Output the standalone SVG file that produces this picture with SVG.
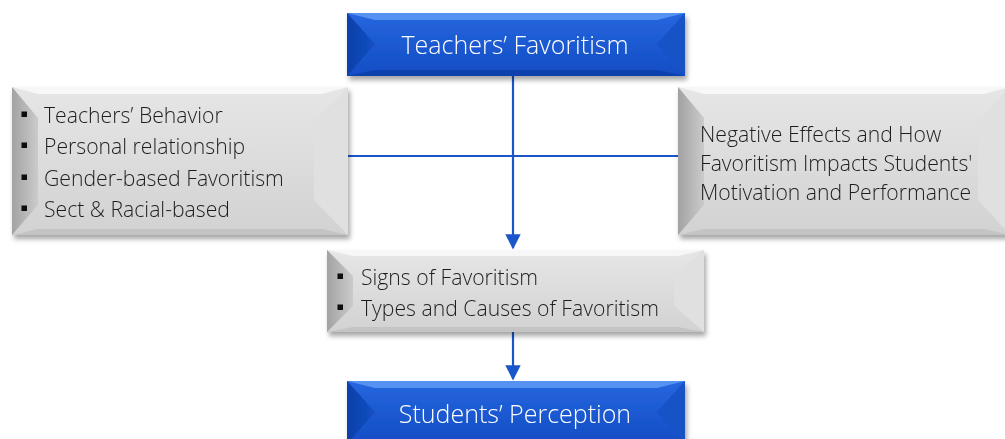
<svg xmlns="http://www.w3.org/2000/svg" width="1005" height="439" viewBox="0 0 1005 439">
  <defs>
    <filter id="shadow" x="-10%" y="-20%" width="125%" height="150%">
      <feDropShadow dx="2" dy="4" stdDeviation="2.5" flood-color="#000" flood-opacity="0.35"/>
    </filter>
    <linearGradient id="blueFace" x1="0" y1="0" x2="0" y2="1">
      <stop offset="0" stop-color="#2766de"/>
      <stop offset="1" stop-color="#114dc4"/>
    </linearGradient>
    <linearGradient id="blueLeft" x1="0" y1="0" x2="1" y2="0">
      <stop offset="0" stop-color="#0b3fa8"/>
      <stop offset="1" stop-color="#1450c4"/>
    </linearGradient>
    <linearGradient id="grayFace" x1="0" y1="0" x2="0" y2="1">
      <stop offset="0" stop-color="#e6e6e6"/>
      <stop offset="1" stop-color="#d2d2d2"/>
    </linearGradient>
    <linearGradient id="grayLeft" x1="0" y1="0" x2="1" y2="0">
      <stop offset="0" stop-color="#a2a2a2"/>
      <stop offset="1" stop-color="#cbcbcb"/>
    </linearGradient>
    <marker id="arrow" viewBox="0 0 10 10" refX="9" refY="5" markerWidth="7" markerHeight="7" markerUnits="strokeWidth" orient="auto">
      <path d="M0,0 L10,5 L0,10 Z" fill="#1a55c9"/>
    </marker>
  </defs>
  <style>
    .blue-face { fill: url(#blueFace); }
    .blue-left { fill: url(#blueLeft); }
    .blue-right { fill: #1652c6; }
    .blue-top { fill: #5592f2; }
    .blue-bottom { fill: #0c42ae; }
    .gray-face { fill: url(#grayFace); }
    .gray-left { fill: url(#grayLeft); }
    .gray-right { fill: #e0e0e0; }
    .gray-top { fill: #f7f7f7; }
    .gray-bottom { fill: #c4c4c4; }
    .label-white { font-family: "Open Sans", "Noto Sans", sans-serif; font-weight: 300; font-size: 25px; fill: #ffffff; text-anchor: middle; }
    .label-dark { font-family: "Open Sans", "Noto Sans", sans-serif; font-weight: 300; font-size: 21.2px; fill: #1e1e1e; }
    .bullet { fill: #0a0a0a; }
    .link { stroke: #1a55c9; stroke-width: 2.2; fill: none; }
  </style>

  <!-- connectors -->
  <g id="connectors">
    <line class="link" x1="348" y1="156" x2="678" y2="156"/>
    <line class="link" x1="513" y1="76" x2="513" y2="248" marker-end="url(#arrow)"/>
    <line class="link" x1="513" y1="332" x2="513" y2="379" marker-end="url(#arrow)"/>
  </g>

  <!-- top node -->
  <g id="teachers-favoritism" filter="url(#shadow)">
    <rect class="blue-face" x="347" y="13" width="338" height="63"/>
    <polygon class="blue-top" points="347,13 685,13 657,20 375,20"/>
    <polygon class="blue-bottom" points="347,76 685,76 657,70 375,70"/>
    <polygon class="blue-left" points="347,13 375,44 347,76"/>
    <polygon class="blue-right" points="685,13 657,44 685,76"/>
    <text class="label-white" x="515" y="54">Teachers’ Favoritism</text>
  </g>

  <!-- left node -->
  <g id="factors" filter="url(#shadow)">
    <rect class="gray-face" x="12" y="87" width="336" height="148"/>
    <polygon class="gray-top" points="12,87 348,87 322,94 38,94"/>
    <polygon class="gray-bottom" points="12,235 348,235 322,229 38,229"/>
    <polygon class="gray-left" points="12,87 38,118 38,205 12,235"/>
    <polygon class="gray-right" points="348,87 314,122 314,200 348,235"/>
    <rect class="bullet" x="21.5" y="111.5" width="5.5" height="5.5"/>
    <text class="label-dark" x="44" y="123">Teachers’ Behavior</text>
    <rect class="bullet" x="21.5" y="142.5" width="5.5" height="5.5"/>
    <text class="label-dark" x="44" y="154">Personal relationship</text>
    <rect class="bullet" x="21.5" y="174.5" width="5.5" height="5.5"/>
    <text class="label-dark" x="44" y="186">Gender-based Favoritism</text>
    <rect class="bullet" x="21.5" y="205.5" width="5.5" height="5.5"/>
    <text class="label-dark" x="44" y="217">Sect &amp; Racial-based</text>
  </g>

  <!-- right node -->
  <g id="effects" filter="url(#shadow)">
    <rect class="gray-face" x="678" y="87" width="332" height="148"/>
    <polygon class="gray-top" points="678,87 1010,87 984,94 704,94"/>
    <polygon class="gray-bottom" points="678,235 1010,235 984,229 704,229"/>
    <polygon class="gray-left" points="678,87 704,118 704,205 678,235"/>
    <polygon class="gray-right" points="1010,87 978,122 978,200 1010,235"/>
    <text class="label-dark" x="700" y="142">Negative Effects and How</text>
    <text class="label-dark" x="700" y="171">Favoritism Impacts Students'</text>
    <text class="label-dark" x="700" y="200">Motivation and Performance</text>
  </g>

  <!-- middle node -->
  <g id="signs-types" filter="url(#shadow)">
    <rect class="gray-face" x="327" y="250" width="377" height="82"/>
    <polygon class="gray-top" points="327,250 704,250 678,256 353,256"/>
    <polygon class="gray-bottom" points="327,332 704,332 678,327 353,327"/>
    <polygon class="gray-left" points="327,250 353,276 353,306 327,332"/>
    <polygon class="gray-right" points="704,250 674,276 674,306 704,332"/>
    <rect class="bullet" x="337.5" y="273.5" width="5.5" height="5.5"/>
    <text class="label-dark" x="361" y="285">Signs of Favoritism</text>
    <rect class="bullet" x="337.5" y="304.5" width="5.5" height="5.5"/>
    <text class="label-dark" x="361" y="316">Types and Causes of Favoritism</text>
  </g>

  <!-- bottom node -->
  <g id="students-perception" filter="url(#shadow)">
    <rect class="blue-face" x="347" y="381" width="338" height="63"/>
    <polygon class="blue-top" points="347,381 685,381 657,388 375,388"/>
    <polygon class="blue-left" points="347,381 375,412 347,444"/>
    <polygon class="blue-right" points="685,381 657,412 685,444"/>
    <text class="label-white" x="515" y="423">Students’ Perception</text>
  </g>
</svg>
